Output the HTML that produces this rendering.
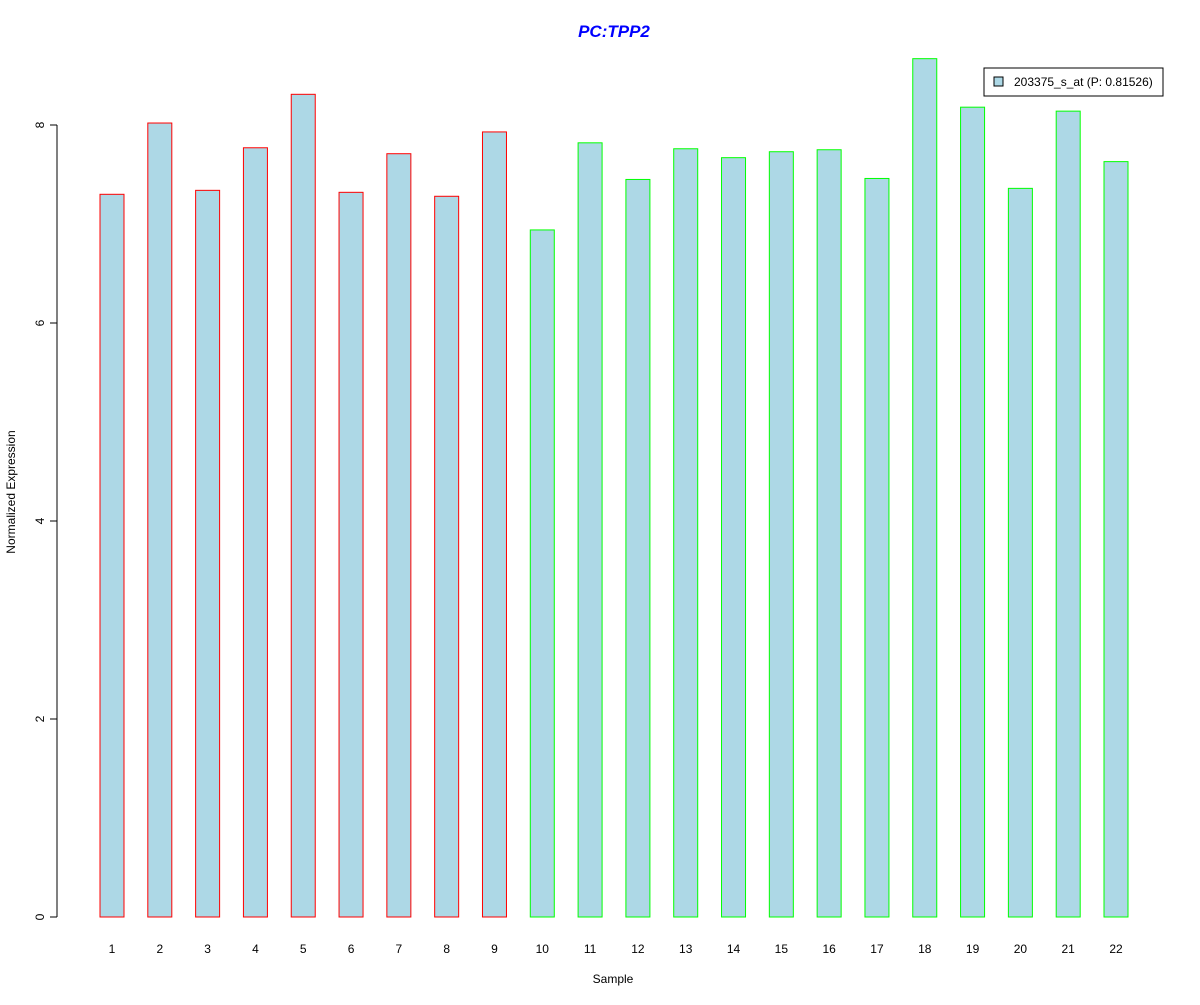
<!DOCTYPE html>
<html><head><meta charset="utf-8"><style>
body{margin:0;background:#fff}
svg text{font-family:"Liberation Sans",Arial,sans-serif}
</style></head><body>
<svg id="chart" width="1200" height="1000" xmlns="http://www.w3.org/2000/svg">
<text x="614" y="37" text-anchor="middle" font-size="17" font-weight="bold" font-style="italic" fill="#0000ff">PC:TPP2</text>
<g id="axes"></g>
<g id="bars"></g>
<text x="613" y="983" text-anchor="middle" font-size="12">Sample</text>
<text transform="translate(15,492) rotate(-90)" text-anchor="middle" font-size="12">Normalized Expression</text>
<g>
<rect x="984" y="68" width="179" height="28" fill="#fff" stroke="#000"/>
<rect x="994" y="77" width="9" height="9" fill="#add8e6" stroke="#000"/>
<text x="1014" y="86" font-size="12">203375_s_at (P: 0.81526)</text>
</g>
</svg>
<script>
const categories=["1","2","3","4","5","6","7","8","9","10","11","12","13","14","15","16","17","18","19","20","21","22"];
const values=[7.30,8.02,7.34,7.77,8.31,7.32,7.71,7.28,7.93,6.94,7.82,7.45,7.76,7.67,7.73,7.75,7.46,8.67,8.18,7.36,8.14,7.63];
const groups=["a","a","a","a","a","a","a","a","a","b","b","b","b","b","b","b","b","b","b","b","b","b"];
const yTicks=[0,2,4,6,8];
const NS="http://www.w3.org/2000/svg";
const y=v=>917-v*99;
const x=i=>112+i*(1116-112)/21;
const axes=document.getElementById('axes'),bars=document.getElementById('bars');
function mk(tag,attrs,parent){const e=document.createElementNS(NS,tag);for(const k in attrs)e.setAttribute(k,attrs[k]);parent.appendChild(e);return e;}
const ax=mk('line',{x1:57,x2:57,y1:y(0),y2:y(8),stroke:'#000'},axes);


yTicks.forEach(t=>{
 const l=mk('line',{x1:50,x2:57,y1:y(t),y2:y(t),stroke:'#000'},axes);
 
 
 const tx=mk('text',{transform:`translate(44,${y(t)}) rotate(-90)`,'text-anchor':'middle','font-size':12},axes);
 tx.textContent=t;
 
 
});
categories.forEach((c,i)=>{
 const r=mk('rect',{x:x(i)-12,y:y(values[i]),width:24,height:y(0)-y(values[i]),fill:'#add8e6',stroke:groups[i]==='a'?'#ff0000':'#00ff00'},bars);
 
 
 const t=mk('text',{x:x(i),y:953,'text-anchor':'middle','font-size':12},bars);
 t.textContent=c;
 
 
});
</script>
</body></html>
